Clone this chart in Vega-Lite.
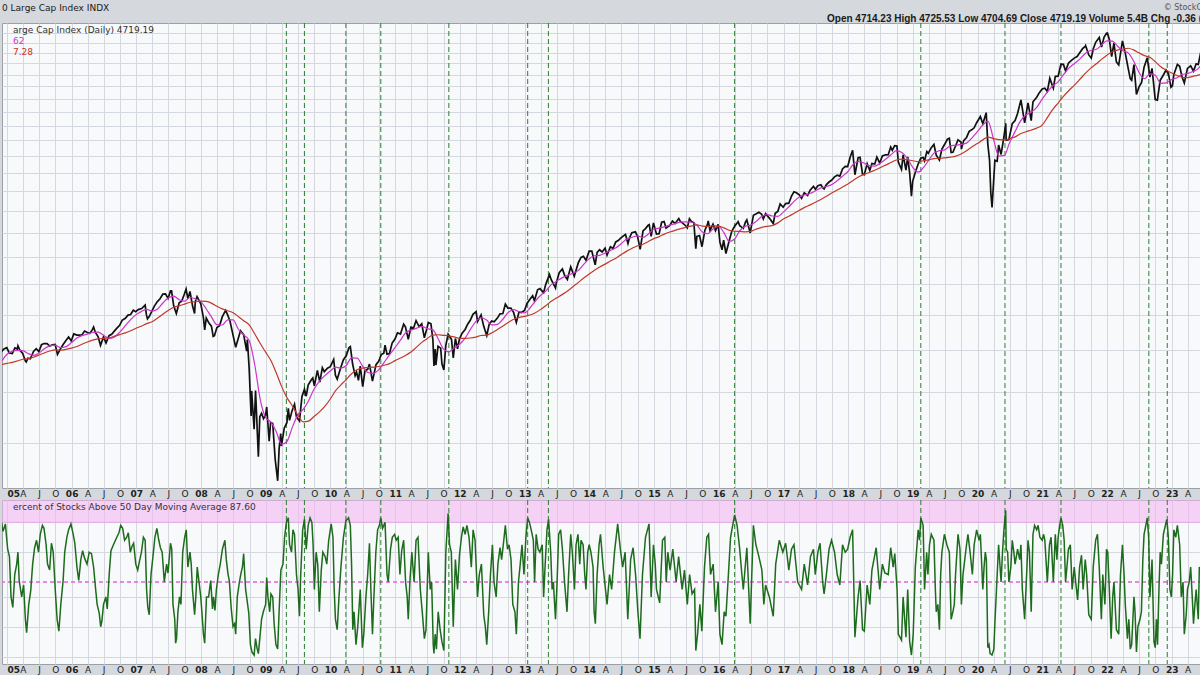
{
  "$schema": "https://vega.github.io/schema/vega-lite/v6.json",
  "background": "#d5d8dc",
  "padding": {"top": 3, "left": 0, "right": 0, "bottom": 0},
  "spacing": 0,
  "title": {"text": "0 Large Cap Index INDX", "anchor": "start", "frame": "group", "offset": -10, "fontSize": 9, "fontWeight": "normal", "font": "DejaVu Sans", "color": "#1a1a1a"},
  "resolve": {"scale": {"x": "independent", "y": "independent", "color": "independent"}, "axis": {"x": "independent", "y": "independent"}, "legend": {"color": "independent"}},
  "config": {
    "view": {"stroke": "#9aa0a6", "fill": "#f8f9fb"},
    "axisX": {
      "tickCount": {"interval": "month", "step": 3},
      "labelExpr": "month(datum.value) == 0 ? timeFormat(datum.value, '%y') : (month(datum.value) == 3 ? 'A' : (month(datum.value) == 6 ? 'J' : 'O'))",
      "labelFontWeight": {"condition": {"test": "month(datum.value) == 0", "value": "bold"}, "value": "normal"},
      "labelFont": "DejaVu Sans", "labelFontSize": 9, "labelColor": "#222222",
      "ticks": false, "domain": false, "grid": true, "gridColor": "#d5d9df", "gridWidth": 1,
      "title": null, "labelOverlap": false, "labelFlush": 8
    },
    "legend": {"title": null, "orient": "top-left", "offset": 2, "padding": 0, "symbolSize": 0, "symbolOpacity": 0, "symbolStrokeWidth": 0, "labelOffset": 0, "labelFont": "DejaVu Sans", "labelFontSize": 9, "rowPadding": 1, "labelLimit": 600}
  },
  "datasets": {
    "sig": [
      {"d": "2009-04-27"}, {"d": "2009-08-07"}, {"d": "2010-03-29"}, {"d": "2010-10-12"}, {"d": "2011-10-31"},
      {"d": "2013-01-18"}, {"d": "2013-05-15"}, {"d": "2016-03-31"}, {"d": "2019-02-15"}, {"d": "2020-06-04"},
      {"d": "2021-04-16"}, {"d": "2022-08-25"}, {"d": "2022-12-07"}
    ],
    "px": [
      {"d":"2004-12-01","c":1191},{"d":"2004-12-15","c":1205},{"d":"2004-12-31","c":1212},
      {"d":"2005-01-14","c":1184},{"d":"2005-01-31","c":1181},{"d":"2005-02-15","c":1210},{"d":"2005-02-28","c":1204},{"d":"2005-03-04","c":1222},{"d":"2005-03-15","c":1198},{"d":"2005-03-31","c":1181},{"d":"2005-04-15","c":1143},{"d":"2005-04-20","c":1138},{"d":"2005-04-29","c":1157},{"d":"2005-05-13","c":1154},{"d":"2005-05-31","c":1192},{"d":"2005-06-15","c":1206},{"d":"2005-06-30","c":1191},{"d":"2005-07-15","c":1228},{"d":"2005-07-29","c":1234},{"d":"2005-08-15","c":1233},{"d":"2005-08-31","c":1220},{"d":"2005-09-15","c":1227},{"d":"2005-09-30","c":1229},{"d":"2005-10-13","c":1177},{"d":"2005-10-31","c":1207},{"d":"2005-11-15","c":1230},{"d":"2005-11-30","c":1250},{"d":"2005-12-15","c":1270},{"d":"2005-12-30","c":1248},
      {"d":"2006-01-13","c":1287},{"d":"2006-01-31","c":1280},{"d":"2006-02-15","c":1280},{"d":"2006-02-28","c":1281},{"d":"2006-03-15","c":1303},{"d":"2006-03-31","c":1295},{"d":"2006-04-13","c":1289},{"d":"2006-04-28","c":1311},{"d":"2006-05-05","c":1326},{"d":"2006-05-15","c":1295},{"d":"2006-05-31","c":1270},{"d":"2006-06-13","c":1224},{"d":"2006-06-30","c":1270},{"d":"2006-07-14","c":1237},{"d":"2006-07-31","c":1277},{"d":"2006-08-15","c":1285},{"d":"2006-08-31","c":1304},{"d":"2006-09-15","c":1321},{"d":"2006-09-29","c":1336},{"d":"2006-10-13","c":1366},{"d":"2006-10-31","c":1378},{"d":"2006-11-15","c":1397},{"d":"2006-11-30","c":1401},{"d":"2006-12-15","c":1427},{"d":"2006-12-29","c":1418},
      {"d":"2007-01-12","c":1431},{"d":"2007-01-31","c":1438},{"d":"2007-02-20","c":1460},{"d":"2007-02-27","c":1400},{"d":"2007-03-05","c":1374},{"d":"2007-03-15","c":1388},{"d":"2007-03-30","c":1421},{"d":"2007-04-13","c":1453},{"d":"2007-04-30","c":1482},{"d":"2007-05-15","c":1501},{"d":"2007-05-31","c":1531},{"d":"2007-06-15","c":1533},{"d":"2007-06-29","c":1503},{"d":"2007-07-13","c":1553},{"d":"2007-07-19","c":1553},{"d":"2007-07-31","c":1455},{"d":"2007-08-15","c":1407},{"d":"2007-08-31","c":1474},{"d":"2007-09-14","c":1484},{"d":"2007-09-28","c":1527},{"d":"2007-10-09","c":1565},{"d":"2007-10-19","c":1501},{"d":"2007-10-31","c":1549},{"d":"2007-11-15","c":1452},{"d":"2007-11-26","c":1407},{"d":"2007-11-30","c":1481},{"d":"2007-12-10","c":1515},{"d":"2007-12-31","c":1468},
      {"d":"2008-01-15","c":1380},{"d":"2008-01-22","c":1310},{"d":"2008-01-31","c":1379},{"d":"2008-02-15","c":1349},{"d":"2008-02-29","c":1331},{"d":"2008-03-10","c":1273},{"d":"2008-03-17","c":1277},{"d":"2008-03-31","c":1323},{"d":"2008-04-15","c":1334},{"d":"2008-04-30","c":1386},{"d":"2008-05-19","c":1426},{"d":"2008-05-30","c":1400},{"d":"2008-06-13","c":1360},{"d":"2008-06-30","c":1280},{"d":"2008-07-15","c":1214},{"d":"2008-07-31","c":1267},{"d":"2008-08-11","c":1305},{"d":"2008-08-29","c":1283},{"d":"2008-09-15","c":1193},{"d":"2008-09-19","c":1255},{"d":"2008-09-29","c":1106},{"d":"2008-10-10","c":899},{"d":"2008-10-13","c":1003},{"d":"2008-10-27","c":848},{"d":"2008-11-04","c":1005},{"d":"2008-11-20","c":752},{"d":"2008-11-28","c":896},{"d":"2008-12-08","c":909},{"d":"2008-12-19","c":888},{"d":"2008-12-31","c":903},
      {"d":"2009-01-06","c":935},{"d":"2009-01-20","c":805},{"d":"2009-01-28","c":874},{"d":"2009-02-09","c":870},{"d":"2009-02-23","c":743},{"d":"2009-03-09","c":677},{"d":"2009-03-17","c":778},{"d":"2009-03-26","c":832},{"d":"2009-03-30","c":788},{"d":"2009-04-15","c":852},{"d":"2009-04-30","c":873},{"d":"2009-05-08","c":929},{"d":"2009-05-15","c":882},{"d":"2009-05-29","c":919},{"d":"2009-06-12","c":946},{"d":"2009-06-23","c":895},{"d":"2009-07-10","c":879},{"d":"2009-07-24","c":979},{"d":"2009-08-07","c":1010},{"d":"2009-08-17","c":980},{"d":"2009-08-28","c":1029},{"d":"2009-09-15","c":1053},{"d":"2009-09-23","c":1061},{"d":"2009-10-02","c":1025},{"d":"2009-10-19","c":1097},{"d":"2009-11-02","c":1042},{"d":"2009-11-16","c":1110},{"d":"2009-11-27","c":1091},{"d":"2009-12-15","c":1108},{"d":"2009-12-31","c":1115},
      {"d":"2010-01-19","c":1150},{"d":"2010-01-29","c":1074},{"d":"2010-02-08","c":1056},{"d":"2010-02-26","c":1105},{"d":"2010-03-15","c":1150},{"d":"2010-03-31","c":1169},{"d":"2010-04-15","c":1211},{"d":"2010-04-23","c":1217},{"d":"2010-05-06","c":1128},{"d":"2010-05-20","c":1072},{"d":"2010-05-28","c":1089},{"d":"2010-06-08","c":1050},{"d":"2010-06-18","c":1118},{"d":"2010-07-02","c":1022},{"d":"2010-07-15","c":1096},{"d":"2010-07-30","c":1102},{"d":"2010-08-09","c":1128},{"d":"2010-08-26","c":1047},{"d":"2010-09-15","c":1125},{"d":"2010-09-30","c":1141},{"d":"2010-10-15","c":1176},{"d":"2010-10-29","c":1183},{"d":"2010-11-05","c":1225},{"d":"2010-11-16","c":1178},{"d":"2010-11-30","c":1181},{"d":"2010-12-15","c":1236},{"d":"2010-12-31","c":1258},
      {"d":"2011-01-14","c":1293},{"d":"2011-01-31","c":1286},{"d":"2011-02-18","c":1343},{"d":"2011-02-28","c":1327},{"d":"2011-03-16","c":1257},{"d":"2011-03-31","c":1326},{"d":"2011-04-15","c":1320},{"d":"2011-04-29","c":1364},{"d":"2011-05-16","c":1329},{"d":"2011-05-31","c":1345},{"d":"2011-06-15","c":1265},{"d":"2011-06-30","c":1321},{"d":"2011-07-07","c":1353},{"d":"2011-07-22","c":1345},{"d":"2011-08-02","c":1254},{"d":"2011-08-08","c":1119},{"d":"2011-08-15","c":1204},{"d":"2011-08-19","c":1123},{"d":"2011-08-31","c":1219},{"d":"2011-09-15","c":1209},{"d":"2011-09-22","c":1129},{"d":"2011-10-03","c":1099},{"d":"2011-10-14","c":1224},{"d":"2011-10-27","c":1285},{"d":"2011-11-15","c":1257},{"d":"2011-11-25","c":1158},{"d":"2011-12-07","c":1261},{"d":"2011-12-19","c":1206},{"d":"2011-12-30","c":1258},
      {"d":"2012-01-13","c":1289},{"d":"2012-01-31","c":1312},{"d":"2012-02-15","c":1344},{"d":"2012-02-29","c":1366},{"d":"2012-03-15","c":1402},{"d":"2012-04-02","c":1419},{"d":"2012-04-10","c":1358},{"d":"2012-04-30","c":1398},{"d":"2012-05-15","c":1330},{"d":"2012-06-01","c":1278},{"d":"2012-06-15","c":1343},{"d":"2012-06-29","c":1362},{"d":"2012-07-13","c":1357},{"d":"2012-07-31","c":1379},{"d":"2012-08-15","c":1405},{"d":"2012-08-31","c":1407},{"d":"2012-09-14","c":1466},{"d":"2012-09-28","c":1441},{"d":"2012-10-15","c":1441},{"d":"2012-10-31","c":1412},{"d":"2012-11-15","c":1353},{"d":"2012-11-30","c":1416},{"d":"2012-12-14","c":1413},{"d":"2012-12-31","c":1426},
      {"d":"2013-01-15","c":1472},{"d":"2013-01-31","c":1498},{"d":"2013-02-15","c":1520},{"d":"2013-02-25","c":1488},{"d":"2013-03-15","c":1561},{"d":"2013-03-28","c":1569},{"d":"2013-04-18","c":1541},{"d":"2013-04-30","c":1598},{"d":"2013-05-21","c":1669},{"d":"2013-05-31","c":1631},{"d":"2013-06-24","c":1573},{"d":"2013-06-28","c":1606},{"d":"2013-07-15","c":1682},{"d":"2013-08-02","c":1710},{"d":"2013-08-15","c":1661},{"d":"2013-08-30","c":1633},{"d":"2013-09-18","c":1725},{"d":"2013-09-30","c":1682},{"d":"2013-10-08","c":1656},{"d":"2013-10-31","c":1757},{"d":"2013-11-15","c":1798},{"d":"2013-11-29","c":1806},{"d":"2013-12-13","c":1775},{"d":"2013-12-31","c":1848},
      {"d":"2014-01-15","c":1848},{"d":"2014-02-03","c":1741},{"d":"2014-02-14","c":1838},{"d":"2014-02-28","c":1859},{"d":"2014-03-14","c":1841},{"d":"2014-03-31","c":1872},{"d":"2014-04-11","c":1816},{"d":"2014-04-30","c":1884},{"d":"2014-05-15","c":1870},{"d":"2014-05-30","c":1924},{"d":"2014-06-13","c":1936},{"d":"2014-06-30","c":1960},{"d":"2014-07-24","c":1988},{"d":"2014-08-07","c":1910},{"d":"2014-08-15","c":1955},{"d":"2014-08-29","c":2003},{"d":"2014-09-18","c":2011},{"d":"2014-09-30","c":1972},{"d":"2014-10-15","c":1862},{"d":"2014-10-31","c":2018},{"d":"2014-11-14","c":2039},{"d":"2014-11-28","c":2068},{"d":"2014-12-05","c":2075},{"d":"2014-12-16","c":1972},{"d":"2014-12-29","c":2091},
      {"d":"2015-01-15","c":1992},{"d":"2015-01-30","c":1995},{"d":"2015-02-13","c":2097},{"d":"2015-02-27","c":2104},{"d":"2015-03-10","c":2044},{"d":"2015-03-31","c":2068},{"d":"2015-04-15","c":2107},{"d":"2015-04-30","c":2086},{"d":"2015-05-21","c":2131},{"d":"2015-05-29","c":2107},{"d":"2015-06-15","c":2084},{"d":"2015-06-30","c":2063},{"d":"2015-07-08","c":2046},{"d":"2015-07-20","c":2129},{"d":"2015-07-31","c":2104},{"d":"2015-08-14","c":2092},{"d":"2015-08-25","c":1868},{"d":"2015-08-31","c":1972},{"d":"2015-09-15","c":1979},{"d":"2015-09-29","c":1884},{"d":"2015-10-15","c":2023},{"d":"2015-10-30","c":2079},{"d":"2015-11-03","c":2109},{"d":"2015-11-13","c":2023},{"d":"2015-11-30","c":2080},{"d":"2015-12-14","c":2021},{"d":"2015-12-29","c":2078},
      {"d":"2016-01-08","c":1922},{"d":"2016-01-20","c":1859},{"d":"2016-01-29","c":1940},{"d":"2016-02-11","c":1829},{"d":"2016-02-29","c":1932},{"d":"2016-03-15","c":2016},{"d":"2016-03-31","c":2060},{"d":"2016-04-20","c":2102},{"d":"2016-04-29","c":2065},{"d":"2016-05-19","c":2041},{"d":"2016-05-31","c":2097},{"d":"2016-06-08","c":2119},{"d":"2016-06-27","c":2001},{"d":"2016-07-15","c":2162},{"d":"2016-07-29","c":2174},{"d":"2016-08-15","c":2190},{"d":"2016-08-31","c":2171},{"d":"2016-09-09","c":2128},{"d":"2016-09-22","c":2177},{"d":"2016-10-14","c":2133},{"d":"2016-11-04","c":2085},{"d":"2016-11-15","c":2180},{"d":"2016-11-30","c":2199},{"d":"2016-12-13","c":2271},{"d":"2016-12-30","c":2239},
      {"d":"2017-01-13","c":2275},{"d":"2017-01-31","c":2279},{"d":"2017-02-15","c":2350},{"d":"2017-03-01","c":2396},{"d":"2017-03-15","c":2385},{"d":"2017-03-31","c":2363},{"d":"2017-04-13","c":2329},{"d":"2017-04-28","c":2384},{"d":"2017-05-17","c":2357},{"d":"2017-05-31","c":2412},{"d":"2017-06-19","c":2453},{"d":"2017-06-30","c":2423},{"d":"2017-07-14","c":2459},{"d":"2017-07-31","c":2470},{"d":"2017-08-10","c":2438},{"d":"2017-08-18","c":2426},{"d":"2017-08-31","c":2472},{"d":"2017-09-15","c":2500},{"d":"2017-09-29","c":2519},{"d":"2017-10-16","c":2557},{"d":"2017-10-31","c":2575},{"d":"2017-11-15","c":2565},{"d":"2017-11-30","c":2648},{"d":"2017-12-15","c":2676},{"d":"2017-12-29","c":2674},
      {"d":"2018-01-12","c":2786},{"d":"2018-01-26","c":2873},{"d":"2018-02-08","c":2581},{"d":"2018-02-26","c":2780},{"d":"2018-03-09","c":2786},{"d":"2018-03-23","c":2588},{"d":"2018-04-02","c":2582},{"d":"2018-04-18","c":2708},{"d":"2018-05-03","c":2630},{"d":"2018-05-15","c":2711},{"d":"2018-05-31","c":2705},{"d":"2018-06-12","c":2787},{"d":"2018-06-28","c":2716},{"d":"2018-07-13","c":2801},{"d":"2018-07-31","c":2816},{"d":"2018-08-15","c":2818},{"d":"2018-08-29","c":2914},{"d":"2018-09-07","c":2872},{"d":"2018-09-20","c":2931},{"d":"2018-10-03","c":2926},{"d":"2018-10-11","c":2729},{"d":"2018-10-29","c":2641},{"d":"2018-11-07","c":2814},{"d":"2018-11-23","c":2633},{"d":"2018-12-03","c":2790},{"d":"2018-12-14","c":2600},{"d":"2018-12-24","c":2351},{"d":"2018-12-31","c":2507},
      {"d":"2019-01-15","c":2610},{"d":"2019-01-31","c":2704},{"d":"2019-02-15","c":2776},{"d":"2019-02-28","c":2784},{"d":"2019-03-08","c":2743},{"d":"2019-03-21","c":2855},{"d":"2019-03-29","c":2834},{"d":"2019-04-15","c":2906},{"d":"2019-04-30","c":2946},{"d":"2019-05-13","c":2812},{"d":"2019-05-31","c":2752},{"d":"2019-06-14","c":2887},{"d":"2019-06-28","c":2942},{"d":"2019-07-15","c":3014},{"d":"2019-07-26","c":3026},{"d":"2019-08-05","c":2844},{"d":"2019-08-15","c":2848},{"d":"2019-08-30","c":2926},{"d":"2019-09-13","c":3007},{"d":"2019-09-30","c":2977},{"d":"2019-10-02","c":2887},{"d":"2019-10-15","c":2996},{"d":"2019-10-31","c":3038},{"d":"2019-11-15","c":3120},{"d":"2019-11-29","c":3141},{"d":"2019-12-13","c":3169},{"d":"2019-12-27","c":3240},
      {"d":"2020-01-17","c":3330},{"d":"2020-01-31","c":3226},{"d":"2020-02-19","c":3386},{"d":"2020-02-28","c":2954},{"d":"2020-03-09","c":2747},{"d":"2020-03-16","c":2386},{"d":"2020-03-23","c":2237},{"d":"2020-04-08","c":2750},{"d":"2020-04-21","c":2737},{"d":"2020-04-29","c":2940},{"d":"2020-05-13","c":2820},{"d":"2020-05-29","c":3044},{"d":"2020-06-08","c":3232},{"d":"2020-06-11","c":3002},{"d":"2020-06-26","c":3009},{"d":"2020-07-15","c":3227},{"d":"2020-07-31","c":3271},{"d":"2020-08-14","c":3373},{"d":"2020-09-02","c":3581},{"d":"2020-09-23","c":3237},{"d":"2020-10-12","c":3534},{"d":"2020-10-30","c":3270},{"d":"2020-11-09","c":3551},{"d":"2020-11-30","c":3622},{"d":"2020-12-15","c":3695},{"d":"2020-12-31","c":3756},
      {"d":"2021-01-15","c":3768},{"d":"2021-01-29","c":3714},{"d":"2021-02-12","c":3934},{"d":"2021-03-04","c":3768},{"d":"2021-03-15","c":3969},{"d":"2021-03-31","c":3973},{"d":"2021-04-16","c":4185},{"d":"2021-04-30","c":4181},{"d":"2021-05-12","c":4063},{"d":"2021-05-28","c":4204},{"d":"2021-06-11","c":4247},{"d":"2021-06-30","c":4298},{"d":"2021-07-16","c":4327},{"d":"2021-07-30","c":4395},{"d":"2021-08-16","c":4479},{"d":"2021-08-31","c":4523},{"d":"2021-09-02","c":4537},{"d":"2021-09-20","c":4358},{"d":"2021-10-04","c":4300},{"d":"2021-10-15","c":4471},{"d":"2021-10-29","c":4605},{"d":"2021-11-18","c":4705},{"d":"2021-12-01","c":4513},{"d":"2021-12-15","c":4709},{"d":"2021-12-29","c":4793},
      {"d":"2022-01-03","c":4797},{"d":"2022-01-14","c":4663},{"d":"2022-01-27","c":4326},{"d":"2022-02-09","c":4587},{"d":"2022-02-23","c":4225},{"d":"2022-03-08","c":4170},{"d":"2022-03-29","c":4632},{"d":"2022-04-14","c":4393},{"d":"2022-04-29","c":4132},{"d":"2022-05-12","c":3930},{"d":"2022-05-20","c":3901},{"d":"2022-06-02","c":4176},{"d":"2022-06-16","c":3667},{"d":"2022-06-30","c":3785},{"d":"2022-07-15","c":3863},{"d":"2022-07-29","c":4130},{"d":"2022-08-16","c":4305},{"d":"2022-08-31","c":3955},{"d":"2022-09-12","c":4110},{"d":"2022-09-30","c":3586},{"d":"2022-10-12","c":3577},{"d":"2022-10-28","c":3901},{"d":"2022-11-15","c":3992},{"d":"2022-11-30","c":4080},{"d":"2022-12-13","c":4019},{"d":"2022-12-28","c":3783},
      {"d":"2023-01-05","c":3808},{"d":"2023-01-13","c":3999},{"d":"2023-02-02","c":4180},{"d":"2023-02-15","c":4148},{"d":"2023-03-01","c":3951},{"d":"2023-03-13","c":3856},{"d":"2023-03-31","c":4109},{"d":"2023-04-18","c":4154},{"d":"2023-05-04","c":4061},{"d":"2023-05-19","c":4192},{"d":"2023-05-31","c":4180},{"d":"2023-06-15","c":4426},{"d":"2023-06-21","c":4366}
    ],
    "ma": [
      {"d":"2004-11-30","m50":1140,"m200":1125},{"d":"2004-12-31","m50":1176,"m200":1131},
      {"d":"2005-01-31","m50":1193,"m200":1136},{"d":"2005-02-28","m50":1197,"m200":1143},{"d":"2005-03-31","m50":1196,"m200":1152},{"d":"2005-04-30","m50":1181,"m200":1155},{"d":"2005-05-31","m50":1172,"m200":1162},{"d":"2005-06-30","m50":1183,"m200":1173},{"d":"2005-07-31","m50":1206,"m200":1184},{"d":"2005-08-31","m50":1221,"m200":1194},{"d":"2005-09-30","m50":1225,"m200":1200},{"d":"2005-10-31","m50":1212,"m200":1199},{"d":"2005-11-30","m50":1217,"m200":1203},{"d":"2005-12-31","m50":1239,"m200":1209},
      {"d":"2006-01-31","m50":1264,"m200":1218},{"d":"2006-02-28","m50":1277,"m200":1230},{"d":"2006-03-31","m50":1286,"m200":1242},{"d":"2006-04-30","m50":1295,"m200":1252},{"d":"2006-05-31","m50":1297,"m200":1259},{"d":"2006-06-30","m50":1279,"m200":1262},{"d":"2006-07-31","m50":1262,"m200":1265},{"d":"2006-08-31","m50":1270,"m200":1274},{"d":"2006-09-30","m50":1297,"m200":1283},{"d":"2006-10-31","m50":1334,"m200":1293},{"d":"2006-11-30","m50":1370,"m200":1305},{"d":"2006-12-31","m50":1400,"m200":1319},
      {"d":"2007-01-31","m50":1420,"m200":1332},{"d":"2007-02-28","m50":1432,"m200":1346},{"d":"2007-03-31","m50":1422,"m200":1357},{"d":"2007-04-30","m50":1434,"m200":1378},{"d":"2007-05-31","m50":1473,"m200":1403},{"d":"2007-06-30","m50":1505,"m200":1426},{"d":"2007-07-31","m50":1518,"m200":1446},{"d":"2007-08-31","m50":1494,"m200":1455},{"d":"2007-09-30","m50":1485,"m200":1466},{"d":"2007-10-31","m50":1509,"m200":1478},{"d":"2007-11-30","m50":1500,"m200":1481},{"d":"2007-12-31","m50":1482,"m200":1485},
      {"d":"2008-01-31","m50":1435,"m200":1483},{"d":"2008-02-29","m50":1386,"m200":1472},{"d":"2008-03-31","m50":1340,"m200":1452},{"d":"2008-04-30","m50":1338,"m200":1436},{"d":"2008-05-31","m50":1368,"m200":1424},{"d":"2008-06-30","m50":1368,"m200":1412},{"d":"2008-07-31","m50":1312,"m200":1387},{"d":"2008-08-31","m50":1280,"m200":1362},{"d":"2008-09-30","m50":1248,"m200":1337},{"d":"2008-10-31","m50":1122,"m200":1286},{"d":"2008-11-30","m50":968,"m200":1235},{"d":"2008-12-31","m50":893,"m200":1188},
      {"d":"2009-01-31","m50":874,"m200":1143},{"d":"2009-02-28","m50":841,"m200":1087},{"d":"2009-03-31","m50":794,"m200":1023},{"d":"2009-04-30","m50":804,"m200":974},{"d":"2009-05-31","m50":856,"m200":939},{"d":"2009-06-30","m50":902,"m200":903},{"d":"2009-07-31","m50":925,"m200":876},{"d":"2009-08-31","m50":962,"m200":879},{"d":"2009-09-30","m50":1010,"m200":897},{"d":"2009-10-31","m50":1047,"m200":915},{"d":"2009-11-30","m50":1072,"m200":937},{"d":"2009-12-31","m50":1094,"m200":968},
      {"d":"2010-01-31","m50":1113,"m200":1005},{"d":"2010-02-28","m50":1108,"m200":1029},{"d":"2010-03-31","m50":1121,"m200":1054},{"d":"2010-04-30","m50":1159,"m200":1081},{"d":"2010-05-31","m50":1158,"m200":1100},{"d":"2010-06-30","m50":1120,"m200":1108},{"d":"2010-07-31","m50":1087,"m200":1111},{"d":"2010-08-31","m50":1083,"m200":1113},{"d":"2010-09-30","m50":1100,"m200":1116},{"d":"2010-10-31","m50":1136,"m200":1122},{"d":"2010-11-30","m50":1174,"m200":1130},{"d":"2010-12-31","m50":1212,"m200":1145},
      {"d":"2011-01-31","m50":1252,"m200":1158},{"d":"2011-02-28","m50":1292,"m200":1171},{"d":"2011-03-31","m50":1308,"m200":1189},{"d":"2011-04-30","m50":1318,"m200":1213},{"d":"2011-05-31","m50":1330,"m200":1240},{"d":"2011-06-30","m50":1317,"m200":1260},{"d":"2011-07-31","m50":1311,"m200":1280},{"d":"2011-08-31","m50":1261,"m200":1282},{"d":"2011-09-30","m50":1205,"m200":1279},{"d":"2011-10-31","m50":1190,"m200":1276},{"d":"2011-11-30","m50":1210,"m200":1270},{"d":"2011-12-31","m50":1230,"m200":1262},
      {"d":"2012-01-31","m50":1263,"m200":1262},{"d":"2012-02-29","m50":1311,"m200":1264},{"d":"2012-03-31","m50":1358,"m200":1269},{"d":"2012-04-30","m50":1381,"m200":1278},{"d":"2012-05-31","m50":1367,"m200":1280},{"d":"2012-06-30","m50":1339,"m200":1293},{"d":"2012-07-31","m50":1342,"m200":1312},{"d":"2012-08-31","m50":1372,"m200":1332},{"d":"2012-09-30","m50":1413,"m200":1353},{"d":"2012-10-31","m50":1431,"m200":1372},{"d":"2012-11-30","m50":1418,"m200":1382},{"d":"2012-12-31","m50":1411,"m200":1389},
      {"d":"2013-01-31","m50":1441,"m200":1398},{"d":"2013-02-28","m50":1482,"m200":1410},{"d":"2013-03-31","m50":1522,"m200":1431},{"d":"2013-04-30","m50":1552,"m200":1456},{"d":"2013-05-31","m50":1596,"m200":1484},{"d":"2013-06-30","m50":1620,"m200":1506},{"d":"2013-07-31","m50":1644,"m200":1528},{"d":"2013-08-31","m50":1662,"m200":1552},{"d":"2013-09-30","m50":1678,"m200":1582},{"d":"2013-10-31","m50":1699,"m200":1612},{"d":"2013-11-30","m50":1744,"m200":1643},{"d":"2013-12-31","m50":1787,"m200":1673},
      {"d":"2014-01-31","m50":1811,"m200":1700},{"d":"2014-02-28","m50":1814,"m200":1724},{"d":"2014-03-31","m50":1832,"m200":1746},{"d":"2014-04-30","m50":1854,"m200":1770},{"d":"2014-05-31","m50":1875,"m200":1792},{"d":"2014-06-30","m50":1909,"m200":1820},{"d":"2014-07-31","m50":1948,"m200":1848},{"d":"2014-08-31","m50":1964,"m200":1872},{"d":"2014-09-30","m50":1975,"m200":1892},{"d":"2014-10-31","m50":1962,"m200":1905},{"d":"2014-11-30","m50":1992,"m200":1928},{"d":"2014-12-31","m50":2033,"m200":1952},
      {"d":"2015-01-31","m50":2044,"m200":1969},{"d":"2015-02-28","m50":2055,"m200":1991},{"d":"2015-03-31","m50":2070,"m200":2009},{"d":"2015-04-30","m50":2084,"m200":2024},{"d":"2015-05-31","m50":2098,"m200":2038},{"d":"2015-06-30","m50":2101,"m200":2051},{"d":"2015-07-31","m50":2097,"m200":2062},{"d":"2015-08-31","m50":2072,"m200":2072},{"d":"2015-09-30","m50":2010,"m200":2062},{"d":"2015-10-31","m50":1994,"m200":2059},{"d":"2015-11-30","m50":2035,"m200":2064},{"d":"2015-12-31","m50":2060,"m200":2061},
      {"d":"2016-01-31","m50":2003,"m200":2046},{"d":"2016-02-29","m50":1928,"m200":2025},{"d":"2016-03-31","m50":1949,"m200":2016},{"d":"2016-04-30","m50":2022,"m200":2014},{"d":"2016-05-31","m50":2062,"m200":2011},{"d":"2016-06-30","m50":2071,"m200":2015},{"d":"2016-07-31","m50":2105,"m200":2035},{"d":"2016-08-31","m50":2150,"m200":2051},{"d":"2016-09-30","m50":2167,"m200":2059},{"d":"2016-10-31","m50":2155,"m200":2067},{"d":"2016-11-30","m50":2152,"m200":2091},{"d":"2016-12-31","m50":2192,"m200":2127},
      {"d":"2017-01-31","m50":2243,"m200":2152},{"d":"2017-02-28","m50":2295,"m200":2178},{"d":"2017-03-31","m50":2342,"m200":2209},{"d":"2017-04-30","m50":2362,"m200":2238},{"d":"2017-05-31","m50":2377,"m200":2262},{"d":"2017-06-30","m50":2406,"m200":2288},{"d":"2017-07-31","m50":2437,"m200":2317},{"d":"2017-08-31","m50":2452,"m200":2349},{"d":"2017-09-30","m50":2472,"m200":2382},{"d":"2017-10-31","m50":2515,"m200":2414},{"d":"2017-11-30","m50":2564,"m200":2446},{"d":"2017-12-31","m50":2618,"m200":2479},
      {"d":"2018-01-31","m50":2705,"m200":2520},{"d":"2018-02-28","m50":2734,"m200":2555},{"d":"2018-03-31","m50":2717,"m200":2585},{"d":"2018-04-30","m50":2682,"m200":2607},{"d":"2018-05-31","m50":2681,"m200":2632},{"d":"2018-06-30","m50":2713,"m200":2661},{"d":"2018-07-31","m50":2762,"m200":2692},{"d":"2018-08-31","m50":2817,"m200":2722},{"d":"2018-09-30","m50":2869,"m200":2753},{"d":"2018-10-31","m50":2845,"m200":2764},{"d":"2018-11-30","m50":2776,"m200":2757},{"d":"2018-12-31","m50":2667,"m200":2744},
      {"d":"2019-01-31","m50":2610,"m200":2734},{"d":"2019-02-28","m50":2660,"m200":2744},{"d":"2019-03-31","m50":2749,"m200":2754},{"d":"2019-04-30","m50":2837,"m200":2770},{"d":"2019-05-31","m50":2867,"m200":2775},{"d":"2019-06-30","m50":2878,"m200":2778},{"d":"2019-07-31","m50":2928,"m200":2787},{"d":"2019-08-31","m50":2936,"m200":2799},{"d":"2019-09-30","m50":2947,"m200":2825},{"d":"2019-10-31","m50":2964,"m200":2865},{"d":"2019-11-30","m50":3030,"m200":2915},{"d":"2019-12-31","m50":3115,"m200":2958},
      {"d":"2020-01-31","m50":3209,"m200":3006},{"d":"2020-02-29","m50":3263,"m200":3043},{"d":"2020-03-31","m50":3017,"m200":3023},{"d":"2020-04-30","m50":2801,"m200":3010},{"d":"2020-05-31","m50":2808,"m200":3002},{"d":"2020-06-30","m50":2970,"m200":3023},{"d":"2020-07-31","m50":3118,"m200":3046},{"d":"2020-08-31","m50":3267,"m200":3088},{"d":"2020-09-30","m50":3352,"m200":3114},{"d":"2020-10-31","m50":3394,"m200":3138},{"d":"2020-11-30","m50":3466,"m200":3165},{"d":"2020-12-31","m50":3591,"m200":3207},
      {"d":"2021-01-31","m50":3712,"m200":3321},{"d":"2021-02-28","m50":3808,"m200":3432},{"d":"2021-03-31","m50":3873,"m200":3531},{"d":"2021-04-30","m50":3999,"m200":3635},{"d":"2021-05-31","m50":4114,"m200":3731},{"d":"2021-06-30","m50":4194,"m200":3816},{"d":"2021-07-31","m50":4278,"m200":3915},{"d":"2021-08-31","m50":4386,"m200":4020},{"d":"2021-09-30","m50":4443,"m200":4110},{"d":"2021-10-31","m50":4462,"m200":4187},{"d":"2021-11-30","m50":4546,"m200":4274},{"d":"2021-12-31","m50":4635,"m200":4354},
      {"d":"2022-01-31","m50":4629,"m200":4420},{"d":"2022-02-28","m50":4531,"m200":4450},{"d":"2022-03-31","m50":4439,"m200":4472},{"d":"2022-04-30","m50":4397,"m200":4487},{"d":"2022-05-31","m50":4244,"m200":4455},{"d":"2022-06-30","m50":4040,"m200":4398},{"d":"2022-07-31","m50":3927,"m200":4344},{"d":"2022-08-31","m50":4012,"m200":4313},{"d":"2022-09-30","m50":3989,"m200":4232},{"d":"2022-10-31","m50":3850,"m200":4137},{"d":"2022-11-30","m50":3856,"m200":4079},{"d":"2022-12-31","m50":3912,"m200":4026},
      {"d":"2023-01-31","m50":3944,"m200":3983},{"d":"2023-02-28","m50":4002,"m200":3952},{"d":"2023-03-31","m50":4016,"m200":3946},{"d":"2023-04-30","m50":4053,"m200":3968},{"d":"2023-05-31","m50":4106,"m200":3991},{"d":"2023-06-21","m50":4195,"m200":4009}
    ],
    "br": [
      {"d":"2004-12-01","v":90},{"d":"2004-12-10","v":84},{"d":"2004-12-23","v":89},{"d":"2005-01-05","v":72},{"d":"2005-01-15","v":67},{"d":"2005-01-24","v":40},{"d":"2005-02-03","v":33},{"d":"2005-02-14","v":55},{"d":"2005-02-25","v":62},{"d":"2005-03-04","v":70},{"d":"2005-03-11","v":51},{"d":"2005-03-25","v":40},{"d":"2005-04-05","v":48},{"d":"2005-04-15","v":25},{"d":"2005-04-22","v":16},{"d":"2005-05-04","v":35},{"d":"2005-05-15","v":44},{"d":"2005-05-26","v":62},{"d":"2005-06-06","v":73},{"d":"2005-06-17","v":78},{"d":"2005-06-28","v":70},{"d":"2005-07-08","v":82},{"d":"2005-07-20","v":88},{"d":"2005-07-29","v":86},{"d":"2005-08-10","v":75},{"d":"2005-08-18","v":62},{"d":"2005-08-30","v":58},{"d":"2005-09-09","v":76},{"d":"2005-09-19","v":70},{"d":"2005-10-01","v":44},{"d":"2005-10-11","v":25},{"d":"2005-10-21","v":17},{"d":"2005-11-01","v":35},{"d":"2005-11-14","v":51},{"d":"2005-11-23","v":70},{"d":"2005-12-05","v":80},{"d":"2005-12-15","v":85},{"d":"2005-12-28","v":89},
      {"d":"2006-01-10","v":82},{"d":"2006-01-19","v":76},{"d":"2006-01-31","v":60},{"d":"2006-02-10","v":51},{"d":"2006-02-22","v":65},{"d":"2006-03-04","v":71},{"d":"2006-03-15","v":66},{"d":"2006-03-29","v":62},{"d":"2006-04-10","v":70},{"d":"2006-04-23","v":69},{"d":"2006-05-05","v":60},{"d":"2006-05-15","v":47},{"d":"2006-05-25","v":35},{"d":"2006-06-06","v":29},{"d":"2006-06-14","v":20},{"d":"2006-06-21","v":24},{"d":"2006-06-30","v":35},{"d":"2006-07-13","v":40},{"d":"2006-07-21","v":32},{"d":"2006-08-01","v":55},{"d":"2006-08-11","v":71},{"d":"2006-08-25","v":75},{"d":"2006-09-13","v":80},{"d":"2006-09-25","v":83},{"d":"2006-10-05","v":88},{"d":"2006-10-16","v":86},{"d":"2006-10-27","v":78},{"d":"2006-11-08","v":80},{"d":"2006-11-17","v":83},{"d":"2006-11-28","v":70},{"d":"2006-12-08","v":74},{"d":"2006-12-17","v":76},{"d":"2006-12-29","v":62},
      {"d":"2007-01-09","v":58},{"d":"2007-01-19","v":64},{"d":"2007-01-30","v":70},{"d":"2007-02-10","v":80},{"d":"2007-02-20","v":78},{"d":"2007-02-28","v":45},{"d":"2007-03-07","v":33},{"d":"2007-03-15","v":28},{"d":"2007-03-25","v":55},{"d":"2007-04-05","v":67},{"d":"2007-04-16","v":80},{"d":"2007-04-27","v":86},{"d":"2007-05-08","v":78},{"d":"2007-05-17","v":73},{"d":"2007-05-27","v":70},{"d":"2007-06-08","v":50},{"d":"2007-06-21","v":62},{"d":"2007-06-29","v":56},{"d":"2007-07-13","v":76},{"d":"2007-07-20","v":72},{"d":"2007-07-27","v":35},{"d":"2007-08-06","v":25},{"d":"2007-08-11","v":9},{"d":"2007-08-16","v":12},{"d":"2007-08-24","v":30},{"d":"2007-09-02","v":40},{"d":"2007-09-10","v":35},{"d":"2007-09-20","v":70},{"d":"2007-10-01","v":80},{"d":"2007-10-10","v":85},{"d":"2007-10-19","v":60},{"d":"2007-10-31","v":70},{"d":"2007-11-07","v":62},{"d":"2007-11-14","v":45},{"d":"2007-11-26","v":28},{"d":"2007-12-03","v":40},{"d":"2007-12-11","v":60},{"d":"2007-12-20","v":51},{"d":"2007-12-31","v":40},
      {"d":"2008-01-09","v":25},{"d":"2008-01-15","v":15},{"d":"2008-01-22","v":9},{"d":"2008-02-01","v":40},{"d":"2008-02-13","v":40},{"d":"2008-02-25","v":51},{"d":"2008-03-06","v":32},{"d":"2008-03-12","v":40},{"d":"2008-03-20","v":31},{"d":"2008-03-28","v":45},{"d":"2008-04-08","v":55},{"d":"2008-04-19","v":62},{"d":"2008-05-01","v":72},{"d":"2008-05-15","v":78},{"d":"2008-05-23","v":65},{"d":"2008-06-02","v":55},{"d":"2008-06-09","v":51},{"d":"2008-06-20","v":32},{"d":"2008-06-30","v":20},{"d":"2008-07-09","v":22},{"d":"2008-07-15","v":15},{"d":"2008-07-24","v":40},{"d":"2008-08-05","v":50},{"d":"2008-08-14","v":56},{"d":"2008-08-22","v":60},{"d":"2008-08-29","v":69},{"d":"2008-09-09","v":45},{"d":"2008-09-17","v":38},{"d":"2008-09-27","v":29},{"d":"2008-10-06","v":8},{"d":"2008-10-15","v":3},{"d":"2008-10-27","v":1},{"d":"2008-11-04","v":12},{"d":"2008-11-12","v":6},{"d":"2008-11-20","v":2},{"d":"2008-11-28","v":12},{"d":"2008-12-08","v":25},{"d":"2008-12-18","v":30},{"d":"2008-12-31","v":35},
      {"d":"2009-01-06","v":53},{"d":"2009-01-13","v":40},{"d":"2009-01-23","v":30},{"d":"2009-01-30","v":42},{"d":"2009-02-09","v":40},{"d":"2009-02-17","v":22},{"d":"2009-02-27","v":8},{"d":"2009-03-09","v":5},{"d":"2009-03-17","v":30},{"d":"2009-03-27","v":58},{"d":"2009-04-08","v":62},{"d":"2009-04-17","v":80},{"d":"2009-04-27","v":90},{"d":"2009-05-08","v":93},{"d":"2009-05-15","v":75},{"d":"2009-05-26","v":70},{"d":"2009-06-03","v":85},{"d":"2009-06-12","v":82},{"d":"2009-06-23","v":55},{"d":"2009-07-02","v":45},{"d":"2009-07-10","v":27},{"d":"2009-07-17","v":55},{"d":"2009-07-28","v":85},{"d":"2009-08-07","v":92},{"d":"2009-08-17","v":72},{"d":"2009-08-28","v":88},{"d":"2009-09-08","v":93},{"d":"2009-09-18","v":90},{"d":"2009-09-25","v":75},{"d":"2009-10-02","v":45},{"d":"2009-10-12","v":70},{"d":"2009-10-21","v":62},{"d":"2009-10-30","v":30},{"d":"2009-11-10","v":58},{"d":"2009-11-19","v":70},{"d":"2009-12-02","v":67},{"d":"2009-12-11","v":62},{"d":"2009-12-22","v":78},
      {"d":"2010-01-05","v":89},{"d":"2010-01-15","v":80},{"d":"2010-01-22","v":45},{"d":"2010-01-29","v":25},{"d":"2010-02-08","v":18},{"d":"2010-02-18","v":40},{"d":"2010-03-01","v":60},{"d":"2010-03-15","v":80},{"d":"2010-03-29","v":91},{"d":"2010-04-13","v":93},{"d":"2010-04-23","v":88},{"d":"2010-04-30","v":62},{"d":"2010-05-07","v":18},{"d":"2010-05-14","v":30},{"d":"2010-05-25","v":8},{"d":"2010-06-04","v":20},{"d":"2010-06-18","v":45},{"d":"2010-06-30","v":6},{"d":"2010-07-08","v":15},{"d":"2010-07-20","v":40},{"d":"2010-07-30","v":55},{"d":"2010-08-09","v":76},{"d":"2010-08-17","v":45},{"d":"2010-08-26","v":15},{"d":"2010-09-03","v":40},{"d":"2010-09-14","v":70},{"d":"2010-09-24","v":85},{"d":"2010-10-04","v":88},{"d":"2010-10-12","v":93},{"d":"2010-10-22","v":86},{"d":"2010-11-05","v":90},{"d":"2010-11-16","v":55},{"d":"2010-11-23","v":50},{"d":"2010-12-06","v":72},{"d":"2010-12-16","v":80},{"d":"2010-12-29","v":82},
      {"d":"2011-01-07","v":78},{"d":"2011-01-18","v":80},{"d":"2011-01-28","v":55},{"d":"2011-02-07","v":71},{"d":"2011-02-18","v":78},{"d":"2011-03-01","v":50},{"d":"2011-03-10","v":40},{"d":"2011-03-16","v":25},{"d":"2011-03-25","v":50},{"d":"2011-04-05","v":70},{"d":"2011-04-18","v":50},{"d":"2011-04-29","v":78},{"d":"2011-05-10","v":80},{"d":"2011-05-23","v":45},{"d":"2011-06-03","v":30},{"d":"2011-06-15","v":12},{"d":"2011-06-24","v":18},{"d":"2011-07-07","v":70},{"d":"2011-07-18","v":45},{"d":"2011-07-26","v":50},{"d":"2011-08-04","v":8},{"d":"2011-08-08","v":2},{"d":"2011-08-15","v":15},{"d":"2011-08-22","v":5},{"d":"2011-09-01","v":30},{"d":"2011-09-12","v":18},{"d":"2011-09-22","v":10},{"d":"2011-10-03","v":4},{"d":"2011-10-14","v":70},{"d":"2011-10-27","v":96},{"d":"2011-11-04","v":75},{"d":"2011-11-14","v":70},{"d":"2011-11-25","v":20},{"d":"2011-12-07","v":65},{"d":"2011-12-19","v":45},{"d":"2011-12-30","v":68},
      {"d":"2012-01-10","v":80},{"d":"2012-01-20","v":87},{"d":"2012-01-31","v":82},{"d":"2012-02-10","v":88},{"d":"2012-02-22","v":80},{"d":"2012-03-06","v":60},{"d":"2012-03-16","v":85},{"d":"2012-03-27","v":78},{"d":"2012-04-10","v":40},{"d":"2012-04-20","v":55},{"d":"2012-05-02","v":62},{"d":"2012-05-15","v":28},{"d":"2012-05-24","v":20},{"d":"2012-06-01","v":8},{"d":"2012-06-12","v":30},{"d":"2012-06-22","v":55},{"d":"2012-07-03","v":75},{"d":"2012-07-12","v":50},{"d":"2012-07-24","v":40},{"d":"2012-08-03","v":62},{"d":"2012-08-15","v":73},{"d":"2012-08-24","v":65},{"d":"2012-09-07","v":80},{"d":"2012-09-14","v":88},{"d":"2012-09-26","v":72},{"d":"2012-10-05","v":75},{"d":"2012-10-16","v":65},{"d":"2012-10-26","v":35},{"d":"2012-11-07","v":30},{"d":"2012-11-15","v":15},{"d":"2012-11-27","v":50},{"d":"2012-12-07","v":62},{"d":"2012-12-17","v":75},{"d":"2012-12-28","v":55},
      {"d":"2013-01-08","v":80},{"d":"2013-01-18","v":93},{"d":"2013-01-28","v":90},{"d":"2013-02-07","v":85},{"d":"2013-02-19","v":78},{"d":"2013-02-26","v":50},{"d":"2013-03-07","v":82},{"d":"2013-03-18","v":72},{"d":"2013-03-28","v":70},{"d":"2013-04-10","v":75},{"d":"2013-04-18","v":40},{"d":"2013-04-26","v":60},{"d":"2013-05-07","v":85},{"d":"2013-05-16","v":92},{"d":"2013-05-28","v":70},{"d":"2013-06-05","v":45},{"d":"2013-06-12","v":50},{"d":"2013-06-24","v":25},{"d":"2013-07-03","v":50},{"d":"2013-07-12","v":82},{"d":"2013-07-23","v":85},{"d":"2013-08-02","v":72},{"d":"2013-08-14","v":50},{"d":"2013-08-28","v":30},{"d":"2013-09-06","v":55},{"d":"2013-09-18","v":82},{"d":"2013-09-27","v":70},{"d":"2013-10-09","v":45},{"d":"2013-10-18","v":75},{"d":"2013-10-29","v":82},{"d":"2013-11-08","v":62},{"d":"2013-11-15","v":78},{"d":"2013-11-27","v":75},{"d":"2013-12-06","v":55},{"d":"2013-12-13","v":45},{"d":"2013-12-23","v":70},{"d":"2013-12-31","v":75},
      {"d":"2014-01-10","v":70},{"d":"2014-01-22","v":60},{"d":"2014-01-28","v":30},{"d":"2014-02-04","v":22},{"d":"2014-02-14","v":55},{"d":"2014-02-25","v":75},{"d":"2014-03-05","v":82},{"d":"2014-03-20","v":60},{"d":"2014-04-11","v":35},{"d":"2014-04-25","v":55},{"d":"2014-05-07","v":45},{"d":"2014-05-23","v":70},{"d":"2014-06-10","v":89},{"d":"2014-06-25","v":72},{"d":"2014-07-08","v":60},{"d":"2014-07-22","v":70},{"d":"2014-08-06","v":25},{"d":"2014-08-22","v":65},{"d":"2014-09-05","v":73},{"d":"2014-09-19","v":55},{"d":"2014-10-02","v":30},{"d":"2014-10-14","v":12},{"d":"2014-10-28","v":55},{"d":"2014-11-14","v":80},{"d":"2014-12-04","v":89},{"d":"2014-12-16","v":40},{"d":"2014-12-29","v":75},
      {"d":"2015-01-08","v":62},{"d":"2015-01-15","v":45},{"d":"2015-02-02","v":36},{"d":"2015-02-18","v":78},{"d":"2015-03-03","v":80},{"d":"2015-03-11","v":50},{"d":"2015-03-20","v":70},{"d":"2015-04-02","v":58},{"d":"2015-04-17","v":72},{"d":"2015-05-06","v":50},{"d":"2015-05-20","v":67},{"d":"2015-06-09","v":45},{"d":"2015-06-22","v":58},{"d":"2015-07-08","v":35},{"d":"2015-07-21","v":55},{"d":"2015-08-04","v":42},{"d":"2015-08-18","v":45},{"d":"2015-08-25","v":4},{"d":"2015-09-04","v":15},{"d":"2015-09-17","v":35},{"d":"2015-09-28","v":17},{"d":"2015-10-13","v":60},{"d":"2015-10-26","v":80},{"d":"2015-11-05","v":82},{"d":"2015-11-16","v":55},{"d":"2015-12-01","v":62},{"d":"2015-12-14","v":30},{"d":"2015-12-29","v":50},
      {"d":"2016-01-08","v":15},{"d":"2016-01-20","v":8},{"d":"2016-02-01","v":30},{"d":"2016-02-11","v":27},{"d":"2016-02-25","v":55},{"d":"2016-03-08","v":80},{"d":"2016-03-31","v":95},{"d":"2016-04-14","v":88},{"d":"2016-04-28","v":73},{"d":"2016-05-11","v":55},{"d":"2016-05-19","v":45},{"d":"2016-06-08","v":73},{"d":"2016-06-27","v":22},{"d":"2016-07-15","v":88},{"d":"2016-07-29","v":75},{"d":"2016-08-15","v":67},{"d":"2016-09-01","v":58},{"d":"2016-09-12","v":35},{"d":"2016-09-22","v":48},{"d":"2016-10-13","v":40},{"d":"2016-11-04","v":27},{"d":"2016-11-18","v":62},{"d":"2016-12-08","v":78},{"d":"2016-12-28","v":70},
      {"d":"2017-01-13","v":76},{"d":"2017-01-31","v":58},{"d":"2017-02-15","v":72},{"d":"2017-03-01","v":75},{"d":"2017-03-22","v":50},{"d":"2017-04-13","v":45},{"d":"2017-04-28","v":62},{"d":"2017-05-17","v":48},{"d":"2017-06-02","v":67},{"d":"2017-06-19","v":72},{"d":"2017-06-29","v":55},{"d":"2017-07-14","v":70},{"d":"2017-07-26","v":76},{"d":"2017-08-10","v":50},{"d":"2017-08-18","v":42},{"d":"2017-08-31","v":55},{"d":"2017-09-15","v":72},{"d":"2017-09-29","v":78},{"d":"2017-10-16","v":70},{"d":"2017-10-31","v":55},{"d":"2017-11-15","v":48},{"d":"2017-11-30","v":75},{"d":"2017-12-15","v":70},{"d":"2017-12-29","v":72},
      {"d":"2018-01-12","v":80},{"d":"2018-01-26","v":85},{"d":"2018-02-08","v":13},{"d":"2018-02-26","v":40},{"d":"2018-03-09","v":51},{"d":"2018-03-23","v":18},{"d":"2018-04-02","v":17},{"d":"2018-04-18","v":48},{"d":"2018-05-03","v":35},{"d":"2018-05-15","v":58},{"d":"2018-06-08","v":73},{"d":"2018-06-28","v":45},{"d":"2018-07-13","v":62},{"d":"2018-07-27","v":56},{"d":"2018-08-15","v":55},{"d":"2018-08-29","v":73},{"d":"2018-09-12","v":60},{"d":"2018-09-21","v":69},{"d":"2018-10-04","v":45},{"d":"2018-10-11","v":15},{"d":"2018-10-29","v":11},{"d":"2018-11-07","v":40},{"d":"2018-11-23","v":13},{"d":"2018-12-03","v":45},{"d":"2018-12-14","v":10},{"d":"2018-12-24","v":1},
      {"d":"2019-01-03","v":15},{"d":"2019-01-15","v":60},{"d":"2019-01-31","v":85},{"d":"2019-02-08","v":78},{"d":"2019-02-15","v":93},{"d":"2019-02-28","v":88},{"d":"2019-03-08","v":45},{"d":"2019-03-20","v":70},{"d":"2019-03-27","v":55},{"d":"2019-04-05","v":75},{"d":"2019-04-15","v":82},{"d":"2019-04-30","v":78},{"d":"2019-05-08","v":45},{"d":"2019-05-13","v":30},{"d":"2019-05-22","v":35},{"d":"2019-05-31","v":18},{"d":"2019-06-07","v":55},{"d":"2019-06-14","v":70},{"d":"2019-06-28","v":82},{"d":"2019-07-12","v":75},{"d":"2019-07-26","v":70},{"d":"2019-08-05","v":25},{"d":"2019-08-15","v":30},{"d":"2019-08-23","v":35},{"d":"2019-08-30","v":55},{"d":"2019-09-13","v":82},{"d":"2019-09-24","v":72},{"d":"2019-10-02","v":35},{"d":"2019-10-11","v":55},{"d":"2019-10-18","v":62},{"d":"2019-10-31","v":75},{"d":"2019-11-08","v":82},{"d":"2019-11-20","v":70},{"d":"2019-12-03","v":55},{"d":"2019-12-13","v":75},{"d":"2019-12-27","v":85},
      {"d":"2020-01-10","v":78},{"d":"2020-01-17","v":82},{"d":"2020-01-31","v":45},{"d":"2020-02-07","v":60},{"d":"2020-02-14","v":70},{"d":"2020-02-20","v":65},{"d":"2020-02-28","v":6},{"d":"2020-03-06","v":8},{"d":"2020-03-12","v":2},{"d":"2020-03-23","v":1},{"d":"2020-04-02","v":5},{"d":"2020-04-09","v":25},{"d":"2020-04-17","v":45},{"d":"2020-04-29","v":75},{"d":"2020-05-13","v":50},{"d":"2020-05-21","v":70},{"d":"2020-05-29","v":85},{"d":"2020-06-08","v":98},{"d":"2020-06-11","v":72},{"d":"2020-06-19","v":70},{"d":"2020-06-26","v":50},{"d":"2020-07-07","v":60},{"d":"2020-07-15","v":78},{"d":"2020-07-24","v":70},{"d":"2020-07-31","v":62},{"d":"2020-08-14","v":72},{"d":"2020-08-26","v":65},{"d":"2020-09-02","v":75},{"d":"2020-09-10","v":45},{"d":"2020-09-23","v":25},{"d":"2020-10-06","v":60},{"d":"2020-10-12","v":78},{"d":"2020-10-20","v":70},{"d":"2020-10-30","v":30},{"d":"2020-11-09","v":82},{"d":"2020-11-18","v":88},{"d":"2020-11-30","v":85},{"d":"2020-12-08","v":88},{"d":"2020-12-18","v":80},{"d":"2020-12-31","v":78},
      {"d":"2021-01-08","v":82},{"d":"2021-01-15","v":78},{"d":"2021-01-29","v":50},{"d":"2021-02-10","v":75},{"d":"2021-02-19","v":80},{"d":"2021-03-04","v":50},{"d":"2021-03-15","v":82},{"d":"2021-03-24","v":65},{"d":"2021-03-31","v":80},{"d":"2021-04-09","v":88},{"d":"2021-04-16","v":93},{"d":"2021-04-26","v":88},{"d":"2021-05-04","v":78},{"d":"2021-05-12","v":50},{"d":"2021-05-21","v":62},{"d":"2021-05-28","v":72},{"d":"2021-06-08","v":75},{"d":"2021-06-18","v":45},{"d":"2021-06-30","v":60},{"d":"2021-07-08","v":50},{"d":"2021-07-19","v":38},{"d":"2021-07-30","v":60},{"d":"2021-08-10","v":68},{"d":"2021-08-19","v":45},{"d":"2021-08-31","v":65},{"d":"2021-09-08","v":55},{"d":"2021-09-20","v":28},{"d":"2021-10-04","v":25},{"d":"2021-10-15","v":60},{"d":"2021-10-29","v":78},{"d":"2021-11-08","v":82},{"d":"2021-11-18","v":60},{"d":"2021-11-30","v":25},{"d":"2021-12-08","v":55},{"d":"2021-12-20","v":35},{"d":"2021-12-29","v":72},
      {"d":"2022-01-05","v":70},{"d":"2022-01-14","v":45},{"d":"2022-01-24","v":12},{"d":"2022-02-02","v":40},{"d":"2022-02-09","v":50},{"d":"2022-02-23","v":18},{"d":"2022-03-08","v":15},{"d":"2022-03-18","v":55},{"d":"2022-03-29","v":75},{"d":"2022-04-07","v":55},{"d":"2022-04-14","v":35},{"d":"2022-04-26","v":12},{"d":"2022-05-04","v":25},{"d":"2022-05-12","v":5},{"d":"2022-05-20","v":8},{"d":"2022-06-02","v":40},{"d":"2022-06-08","v":30},{"d":"2022-06-16","v":3},{"d":"2022-06-24","v":20},{"d":"2022-07-06","v":25},{"d":"2022-07-14","v":30},{"d":"2022-07-22","v":65},{"d":"2022-07-29","v":82},{"d":"2022-08-08","v":88},{"d":"2022-08-16","v":93},{"d":"2022-08-24","v":80},{"d":"2022-08-31","v":40},{"d":"2022-09-12","v":65},{"d":"2022-09-23","v":10},{"d":"2022-09-30","v":6},{"d":"2022-10-07","v":25},{"d":"2022-10-13","v":8},{"d":"2022-10-21","v":45},{"d":"2022-10-28","v":70},{"d":"2022-11-04","v":62},{"d":"2022-11-15","v":82},{"d":"2022-11-30","v":90},{"d":"2022-12-05","v":92},{"d":"2022-12-13","v":80},{"d":"2022-12-22","v":45},{"d":"2022-12-30","v":40},
      {"d":"2023-01-06","v":55},{"d":"2023-01-13","v":85},{"d":"2023-01-24","v":80},{"d":"2023-02-02","v":88},{"d":"2023-02-15","v":75},{"d":"2023-02-24","v":40},{"d":"2023-03-06","v":50},{"d":"2023-03-13","v":15},{"d":"2023-03-24","v":28},{"d":"2023-03-31","v":45},{"d":"2023-04-10","v":50},{"d":"2023-04-18","v":60},{"d":"2023-04-27","v":40},{"d":"2023-05-04","v":22},{"d":"2023-05-12","v":35},{"d":"2023-05-19","v":45},{"d":"2023-05-31","v":25},{"d":"2023-06-06","v":60},{"d":"2023-06-13","v":58},{"d":"2023-06-21","v":48}
    ]
  },
  "vconcat": [
    {
      "width": 1200,
      "height": 465,
      "title": {"text": "© StockC", "subtitle": "Open 4714.23  High 4725.53  Low 4704.69  Close 4719.19  Volume 5.4B  Chg -0.36 (", "anchor": "end", "frame": "group", "offset": -1, "font": "DejaVu Sans", "fontSize": 8, "fontWeight": "normal", "color": "#555555", "subtitleFont": "Liberation Sans", "subtitleFontSize": 10, "subtitleFontWeight": "bold", "subtitleColor": "#1a1a1a", "subtitlePadding": 2},
      "layer": [
        {
          "data": {"name": "sig"},
          "mark": {"type": "rule", "color": "#2e7d32", "strokeDash": [5, 3], "strokeWidth": 1},
          "encoding": {
            "x": {"field": "d", "type": "temporal", "scale": {"domain": [{"year": 2004, "month": 12, "date": 4}, {"year": 2023, "month": 6, "date": 21}]}, "axis": {"minExtent": 10, "maxExtent": 10, "labelPadding": 1}}
          }
        },
        {
          "data": {"name": "px"},
          "mark": {"type": "line", "strokeWidth": 1.7, "clip": true, "interpolate": "linear"},
          "encoding": {
            "x": {"field": "d", "type": "temporal"},
            "y": {"field": "c", "type": "quantitative", "scale": {"type": "log", "domain": [656, 5011], "nice": false}, "axis": {"orient": "left", "labels": false, "ticks": false, "domain": false, "title": null, "grid": true, "gridColor": "#d5d9df", "values": [800, 1000, 1200, 1400, 1600, 1800, 2000, 2200, 2400, 2600, 2800, 3000, 3200, 3400, 3600, 3800, 4000, 4200, 4400, 4600, 4800], "minExtent": 0, "maxExtent": 0}},
            "color": {"datum": "arge Cap Index (Daily) 4719.19", "scale": {"domain": ["arge Cap Index (Daily) 4719.19", "62", "7.28"], "range": ["#111111", "#cc33cc", "#c0392b"]}, "legend": {"encoding": {"labels": {"fill": {"condition": [{"test": "datum.label == '62'", "value": "#cc33cc"}, {"test": "datum.label == '7.28'", "value": "#c0392b"}], "value": "#333333"}}}}}
          }
        },
        {
          "data": {"name": "ma"},
          "mark": {"type": "line", "strokeWidth": 1.2, "clip": true, "interpolate": "monotone"},
          "encoding": {
            "x": {"field": "d", "type": "temporal"},
            "y": {"field": "m50", "type": "quantitative"},
            "color": {"datum": "62"}
          }
        },
        {
          "data": {"name": "ma"},
          "mark": {"type": "line", "strokeWidth": 1.2, "clip": true, "interpolate": "monotone"},
          "encoding": {
            "x": {"field": "d", "type": "temporal"},
            "y": {"field": "m200", "type": "quantitative"},
            "color": {"datum": "7.28"}
          }
        }
      ]
    },
    {
      "width": 1200,
      "height": 164,
      "layer": [
        {
          "data": {"values": [{"zone": "overbought"}]},
          "mark": {"type": "rect", "color": "#f1b5f1", "opacity": 0.6, "clip": true},
          "encoding": {
            "x": {"datum": {"year": 2004, "month": 11, "date": 1}, "type": "temporal"},
            "x2": {"datum": {"year": 2023, "month": 8, "date": 1}},
            "y": {"datum": 90, "type": "quantitative"},
            "y2": {"datum": 105}
          }
        },
        {
          "data": {"values": [{"zone": "overbought"}]},
          "mark": {"type": "rule", "color": "#e3a6e3", "strokeWidth": 1},
          "encoding": {"y": {"datum": 90, "type": "quantitative"}}
        },
        {
          "data": {"values": [{"level": "midline"}]},
          "mark": {"type": "rule", "color": "#dd66dd", "strokeWidth": 1.5, "strokeDash": [4, 3]},
          "encoding": {"y": {"datum": 50, "type": "quantitative"}}
        },
        {
          "data": {"name": "sig"},
          "mark": {"type": "rule", "color": "#2e7d32", "strokeDash": [5, 3], "strokeWidth": 1},
          "encoding": {
            "x": {"field": "d", "type": "temporal"}
          }
        },
        {
          "data": {"name": "br"},
          "mark": {"type": "line", "strokeWidth": 1.5, "clip": true},
          "encoding": {
            "x": {"field": "d", "type": "temporal", "scale": {"domain": [{"year": 2004, "month": 12, "date": 4}, {"year": 2023, "month": 6, "date": 21}]}, "axis": {"minExtent": 13, "maxExtent": 13, "labelPadding": 1}},
            "y": {"field": "v", "type": "quantitative", "scale": {"domain": [-5, 105], "nice": false, "zero": false}, "axis": {"orient": "left", "labels": false, "ticks": false, "domain": false, "title": null, "grid": true, "gridColor": "#d5d9df", "values": [0, 10, 20, 30, 40, 60, 70, 80], "minExtent": 0, "maxExtent": 0}},
            "color": {"datum": "ercent of Stocks Above 50 Day Moving Average 87.60", "scale": {"range": ["#1d6b1d"]}, "legend": {"labelColor": "#333333"}}
          }
        }
      ]
    }
  ]
}
